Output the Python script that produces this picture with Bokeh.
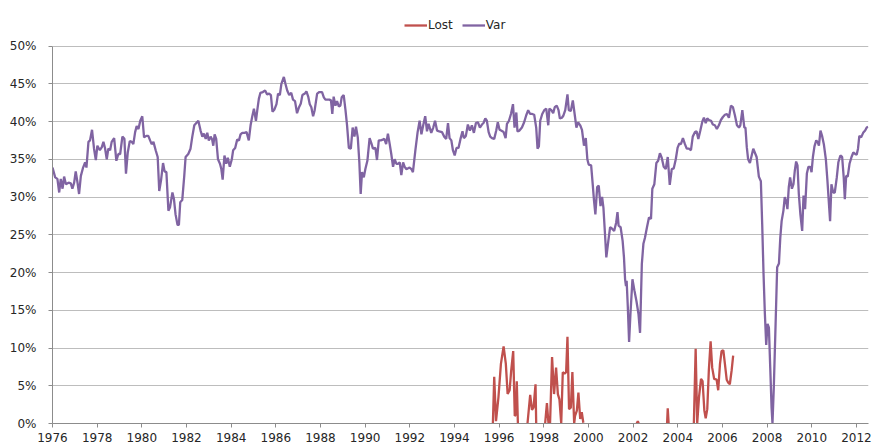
from bokeh.plotting import figure
from bokeh.models import Legend, LegendItem, FixedTicker, PrintfTickFormatter, Range1d
from bokeh.embed import file_html
from bokeh.resources import INLINE

NaN = float("nan")

# ---------------- data ----------------
var_year = [
    1976.00, 1976.12, 1976.22, 1976.30, 1976.37, 1976.45, 1976.52, 1976.60, 1976.72, 1976.82,
    1976.89, 1976.97, 1977.04, 1977.12, 1977.19, 1977.27, 1977.37, 1977.46, 1977.52, 1977.61,
    1977.68, 1977.77, 1977.86, 1977.94, 1978.01, 1978.12, 1978.21, 1978.28, 1978.35, 1978.43,
    1978.50, 1978.58, 1978.65, 1978.76, 1978.86, 1978.95, 1979.03, 1979.13, 1979.22, 1979.29,
    1979.37, 1979.46, 1979.55, 1979.62, 1979.70, 1979.77, 1979.85, 1979.93, 1980.02, 1980.10,
    1980.20, 1980.29, 1980.37, 1980.44, 1980.52, 1980.62, 1980.71, 1980.78, 1980.86, 1980.95,
    1981.02, 1981.10, 1981.19, 1981.26, 1981.37, 1981.44, 1981.51, 1981.60, 1981.66, 1981.72,
    1981.81, 1981.90, 1981.96, 1982.08, 1982.18, 1982.26, 1982.35, 1982.41,
    1982.53, 1982.63, 1982.71, 1982.78, 1982.86, 1982.93, 1983.00, 1983.08, 1983.15, 1983.20,
    1983.26, 1983.33, 1983.41, 1983.50, 1983.56, 1983.62, 1983.70, 1983.78, 1983.85, 1983.94,
    1984.03, 1984.09, 1984.18, 1984.27, 1984.35, 1984.42, 1984.50, 1984.60, 1984.69, 1984.79,
    1984.87, 1984.94, 1985.02, 1985.11, 1985.17, 1985.24, 1985.31, 1985.42, 1985.52, 1985.61,
    1985.70, 1985.78, 1985.85, 1985.94, 1986.03, 1986.10, 1986.18, 1986.25, 1986.36, 1986.43,
    1986.51, 1986.60, 1986.69, 1986.77, 1986.86, 1986.95, 1987.04, 1987.12, 1987.19, 1987.30,
    1987.37, 1987.45, 1987.52, 1987.59, 1987.67, 1987.74, 1987.85, 1987.95, 1988.07, 1988.15,
    1988.22, 1988.33, 1988.40, 1988.47, 1988.53, 1988.59, 1988.67, 1988.74, 1988.82, 1988.89,
    1988.95, 1989.04, 1989.12, 1989.19, 1989.27, 1989.36, 1989.44, 1989.52, 1989.59, 1989.67,
    1989.74, 1989.80, 1989.86, 1989.94, 1990.01, 1990.10, 1990.20, 1990.28, 1990.35, 1990.46,
    1990.53, 1990.61, 1990.70, 1990.79, 1990.86, 1990.94, 1991.02, 1991.10, 1991.17, 1991.25,
    1991.32, 1991.40, 1991.47, 1991.55, 1991.62, 1991.70, 1991.77, 1991.84, 1991.92, 1991.99,
    1992.07, 1992.14, 1992.25, 1992.35, 1992.44, 1992.52, 1992.60, 1992.69, 1992.77, 1992.84,
    1992.96, 1993.05, 1993.13, 1993.22, 1993.32, 1993.44, 1993.54, 1993.63, 1993.71, 1993.78,
    1993.86, 1993.93, 1994.01, 1994.09, 1994.18, 1994.27, 1994.36, 1994.42, 1994.51, 1994.60,
    1994.69, 1994.78, 1994.87, 1994.96, 1995.05, 1995.14, 1995.23, 1995.30, 1995.38,
    1995.45, 1995.53, 1995.60, 1995.68, 1995.78, 1995.87, 1995.94, 1996.02, 1996.09, 1996.20,
    1996.29, 1996.35, 1996.44, 1996.53, 1996.62, 1996.69, 1996.77, 1996.82, 1996.91, 1997.02,
    1997.12, 1997.21, 1997.30, 1997.39, 1997.48, 1997.57, 1997.66, 1997.72, 1997.78, 1997.84,
    1997.93, 1998.02, 1998.11, 1998.20, 1998.25, 1998.34, 1998.42, 1998.49, 1998.58, 1998.66,
    1998.72, 1998.81, 1998.88, 1998.96, 1999.06, 1999.12, 1999.21, 1999.30, 1999.39, 1999.46,
    1999.54, 1999.63, 1999.71, 1999.80, 1999.88, 1999.95, 2000.01, 2000.12, 2000.19, 2000.25,
    2000.31, 2000.39, 2000.46, 2000.54, 2000.61, 2000.67, 2000.74, 2000.80, 2000.89, 2000.97,
    2001.06, 2001.15, 2001.24, 2001.30, 2001.35, 2001.44, 2001.53, 2001.59, 2001.64, 2001.68,
    2001.71, 2001.76, 2001.82, 2001.88, 2001.97, 2002.06, 2002.15, 2002.24, 2002.31, 2002.39,
    2002.46, 2002.53, 2002.62, 2002.71, 2002.80, 2002.86, 2002.95, 2003.04, 2003.12, 2003.20,
    2003.28, 2003.37, 2003.46, 2003.55, 2003.64, 2003.73, 2003.82, 2003.91, 2003.99, 2004.07,
    2004.14, 2004.23, 2004.32, 2004.40, 2004.50, 2004.59, 2004.67, 2004.77, 2004.84, 2004.92,
    2005.01, 2005.10, 2005.17, 2005.25, 2005.32, 2005.40, 2005.49, 2005.57, 2005.66, 2005.75,
    2005.84, 2005.93, 2006.02, 2006.11, 2006.20, 2006.29, 2006.38, 2006.47, 2006.56, 2006.65,
    2006.74, 2006.80, 2006.89, 2006.98, 2007.03, 2007.09,
    2007.15, 2007.23, 2007.38, 2007.53, 2007.63, 2007.72, 2007.78, 2007.84, 2007.90, 2007.96,
    2008.02, 2008.08, 2008.14, 2008.20, 2008.24, 2008.30, 2008.38, 2008.45, 2008.53, 2008.59,
    2008.65, 2008.73, 2008.79, 2008.85, 2008.91, 2008.97, 2009.03, 2009.11, 2009.18, 2009.24,
    2009.30, 2009.36, 2009.42, 2009.49, 2009.57, 2009.63, 2009.70, 2009.78, 2009.85, 2009.93,
    2009.99, 2010.05, 2010.12, 2010.20, 2010.26, 2010.32, 2010.39, 2010.46, 2010.54, 2010.63,
    2010.70, 2010.78, 2010.82, 2010.88, 2010.96, 2011.03, 2011.12, 2011.19, 2011.28, 2011.36,
    2011.43, 2011.48, 2011.54, 2011.61, 2011.69, 2011.78, 2011.86, 2011.94, 2012.01, 2012.07,
    2012.13, 2012.21, 2012.30, 2012.39, 2012.46, 2012.52,
]
var_pct = [
    33.9, 32.6, 32.4, 30.6, 32.4, 31.1, 32.7, 31.7, 31.9, 31.8,
    31.1, 31.9, 33.4, 31.9, 30.4, 32.8, 33.9, 34.6, 33.9, 37.3,
    37.5, 38.9, 36.4, 34.9, 36.8, 36.2, 36.6, 37.3, 36.5, 35.0,
    36.4, 36.2, 37.3, 37.8, 34.8, 35.7, 35.7, 38.0, 37.7, 33.1,
    35.9, 37.4, 37.3, 37.0, 38.6, 39.4, 39.0, 40.1, 40.7, 37.9,
    38.1, 38.1, 37.5, 37.0, 37.3, 36.2, 35.3, 30.8, 32.2, 34.5,
    33.4, 33.3, 28.2, 28.6, 30.6, 29.7, 27.7, 26.3, 26.3, 29.3,
    29.6, 32.8, 35.3, 35.7, 36.4, 38.0, 39.5, 39.7,
    40.1, 38.8, 38.0, 38.4, 37.7, 38.5, 37.5, 38.0, 37.6, 36.8,
    38.3, 37.7, 35.0, 34.4, 33.7, 32.3, 35.5, 34.4, 35.2, 34.0,
    35.0, 36.2, 36.5, 37.6, 37.5, 38.3, 38.5, 38.5, 38.6, 37.5,
    39.5, 40.6, 41.7, 40.1, 41.5, 43.0, 43.8, 43.9, 44.1, 43.6,
    43.7, 43.5, 41.3, 41.6, 42.3, 43.7, 43.5, 45.0, 45.9, 45.0,
    44.1, 43.5, 43.8, 42.9, 42.7, 41.1, 41.9, 42.4, 43.5, 43.7,
    44.0, 43.3, 42.3, 41.9, 40.7, 41.5, 43.7, 43.9, 43.9, 43.2,
    42.9, 42.9, 42.9, 42.8, 41.0, 43.3, 42.1, 42.7, 42.0, 42.1,
    43.2, 43.5, 41.5, 39.5, 36.5, 36.4, 39.2, 38.0, 39.3, 37.9,
    34.6, 30.4, 33.3, 32.6, 33.7, 34.8, 37.8, 37.1, 36.4, 36.5,
    34.9, 37.5, 37.5, 37.6, 37.7, 37.0, 38.4, 37.0, 35.7, 34.0,
    35.0, 34.4, 34.4, 34.6, 32.9, 34.6, 34.0, 33.7, 33.8, 33.9,
    33.7, 33.3, 36.2, 38.6, 40.1, 38.3, 39.5, 40.7, 38.7, 39.7,
    38.5, 39.2, 40.1, 38.8, 38.7, 38.6, 38.0, 37.7, 39.8, 37.8,
    37.5, 36.2, 35.5, 36.5, 36.5, 37.7, 38.7, 37.8, 38.1, 39.6,
    38.8, 39.5, 38.5, 39.8, 39.9, 39.2, 39.6, 39.8, 40.4,
    40.1, 38.6, 38.0, 37.8, 37.7, 38.8, 39.9, 38.9, 38.8, 38.6,
    37.8, 39.7, 40.1, 41.0, 42.3, 39.2, 41.2, 38.7, 38.8, 39.2,
    39.9, 40.8, 41.5, 41.0, 41.0, 40.9, 39.2, 36.4, 36.7, 40.1,
    41.0, 41.5, 41.7, 39.5, 41.7, 41.5, 41.1, 41.9, 42.1, 41.5,
    40.4, 40.5, 40.8, 41.5, 43.6, 41.5, 41.4, 42.8, 40.8, 39.2,
    39.9, 39.5, 38.9, 36.8, 37.8, 35.0, 34.3, 34.2, 31.7, 29.5,
    27.7, 31.3, 31.5, 28.8, 30.0, 28.6, 25.1, 22.0, 24.2, 26.0,
    25.8, 25.5, 26.6, 28.0, 26.2, 26.0, 24.2, 22.0, 19.1, 18.2,
    18.9, 15.6, 10.8, 14.5, 19.1, 17.6, 16.2, 14.5, 12.0, 21.1,
    23.8, 24.6, 26.0, 27.3, 27.1, 31.1, 31.7, 34.5, 34.8, 35.8,
    35.2, 34.0, 33.7, 35.3, 31.6, 33.7, 33.8, 35.0, 36.5, 37.1,
    37.0, 37.8, 37.0, 36.4, 36.4, 36.2, 38.0, 38.6, 38.7, 37.7,
    38.8, 40.0, 40.5, 39.8, 40.4, 40.2, 40.1, 39.6, 39.5, 39.0,
    39.5, 40.2, 40.6, 40.9, 41.0, 40.5, 42.1, 41.9, 40.8, 39.5,
    39.2, 39.5, 41.5, 39.2, 39.2, 36.6,
    35.0, 34.5, 36.4, 35.3, 32.7, 32.1, 26.4, 19.8, 14.5, 10.4,
    13.2, 12.7, 7.4, 2.1, 0.0, 4.8, 13.2, 20.7, 21.2, 24.6,
    26.8, 28.2, 30.0, 29.5, 28.4, 31.3, 32.6, 31.1, 31.7, 33.5,
    34.7, 34.2, 30.4, 27.7, 25.5, 30.2, 28.4, 33.1, 34.0, 34.0,
    33.3, 35.3, 36.7, 37.5, 37.3, 36.8, 38.8, 38.1, 37.0, 35.0,
    32.2, 28.6, 26.8, 31.7, 30.6, 30.6, 32.6, 34.6, 35.5, 35.3,
    32.6, 29.7, 32.8, 32.7, 34.4, 35.3, 35.9, 35.7, 35.6, 36.4,
    38.1, 37.9, 38.5, 38.8, 39.2, 39.3,
]

lost_year = [
    1995.72, 1995.78, 1995.86, 1995.97, 1996.08, 1996.20, 1996.30, 1996.38, 1996.47, 1996.54,
    1996.63, 1996.70, 1996.75, 1996.79, 1996.84, 1996.90,
    1997.27, 1997.39, 1997.47, 1997.54, 1997.63, 1997.66, 1997.80,
    1998.06, 1998.14, 1998.21, 1998.28, 1998.37, 1998.46, 1998.55, 1998.63, 1998.70, 1998.78,
    1998.85, 1998.93, 1999.00, 1999.06, 1999.13, 1999.21, 1999.28, 1999.36, 1999.40, 1999.48,
    1999.55, 1999.63, 1999.70, 1999.77, 1999.85,
    2002.16, 2002.21, 2002.25, 2002.30,
    2003.52, 2003.55, 2003.59, 2003.65,
    2004.72, 2004.80, 2004.87, 2004.95, 2005.04, 2005.11, 2005.19, 2005.25, 2005.32, 2005.39,
    2005.47, 2005.54, 2005.63, 2005.74, 2005.81, 2005.89, 2005.96, 2006.04, 2006.11, 2006.19,
    2006.26, 2006.33, 2006.41, 2006.48,
]
lost_pct = [
    0.0, 6.2, 0.3, 3.5, 7.9, 10.2, 7.9, 3.9, 4.4, 7.0,
    9.6, 1.0, 1.2, 5.6, 0.0, NaN,
    0.0, 3.8, 1.8, 2.1, 5.2, 0.0, NaN,
    0.0, 2.7, 0.0, 0.0, 8.8, 3.9, 7.4, 3.9, 3.2, 0.0,
    6.8, 6.6, 6.8, 11.5, 1.9, 2.1, 6.8, 0.0, 1.0, 1.7,
    4.1, 0.6, 1.5, 0.1, NaN,
    0.0, 0.3, 0.0, NaN,
    0.0, 2.0, 0.0, NaN,
    0.0, 9.9, 0.0, 3.5, 5.9, 5.6, 1.7, 0.7, 1.9, 7.0,
    10.9, 7.4, 5.9, 5.8, 4.4, 7.9, 9.6, 9.7, 7.9, 5.8,
    5.4, 5.2, 7.0, 9.0,
]

x_ticks = list(range(1976, 2013, 2))
y_ticks = list(range(0, 51, 5))

FONT = "DejaVu Sans"
GRID = "#BDBDBD"
AXIS = "#8C8C8C"
TEXT = "#262626"
RED = "#C0504D"
PURPLE = "#8064A2"

# frame spans from near the top of the canvas so that the legend can sit inside it,
# above the 50% line; axis line is bounded to 0..50
p = figure(width=894, height=446, output_backend="svg", toolbar_location=None,
           x_range=Range1d(1976, 2012.54), y_range=Range1d(0, 55.5),
           min_border_left=52, min_border_right=26, min_border_top=4, min_border_bottom=23,
           background_fill_color="white", border_fill_color="white")
p.outline_line_color = None

r_lost = p.line(lost_year, lost_pct, line_color=RED, line_width=2.3)
r_var = p.line(var_year, var_pct, line_color=PURPLE, line_width=2.3)

p.xaxis.ticker = FixedTicker(ticks=x_ticks)
p.yaxis.ticker = FixedTicker(ticks=y_ticks)
p.yaxis.formatter = PrintfTickFormatter(format="%d%%")
p.yaxis.bounds = (0, 50)

for ax in (p.xaxis[0], p.yaxis[0]):
    ax.axis_line_color = AXIS
    ax.axis_line_width = 1
    ax.major_tick_line_color = AXIS
    ax.minor_tick_line_color = None
    ax.major_label_text_font = FONT
    ax.major_label_text_font_size = "12px"
    ax.major_label_text_color = TEXT
p.yaxis.major_tick_out = 4
p.yaxis.major_tick_in = 0
p.yaxis.major_label_standoff = 12
p.xaxis.major_tick_out = 4
p.xaxis.major_tick_in = 0
p.xaxis.major_label_standoff = 5

p.xgrid.grid_line_color = None
p.ygrid.grid_line_color = GRID
p.ygrid.grid_line_width = 1

legend = Legend(items=[LegendItem(label="Lost", renderers=[r_lost]),
                       LegendItem(label="Var", renderers=[r_var])],
                orientation="horizontal", location=(352, 391),
                border_line_color=None, background_fill_alpha=0,
                label_text_font=FONT, label_text_font_size="12px", label_text_color=TEXT,
                glyph_width=23, glyph_height=14, label_standoff=1, spacing=9,
                padding=0, margin=0)
p.add_layout(legend, "center")

open("out.html", "w").write(file_html(p, INLINE))
